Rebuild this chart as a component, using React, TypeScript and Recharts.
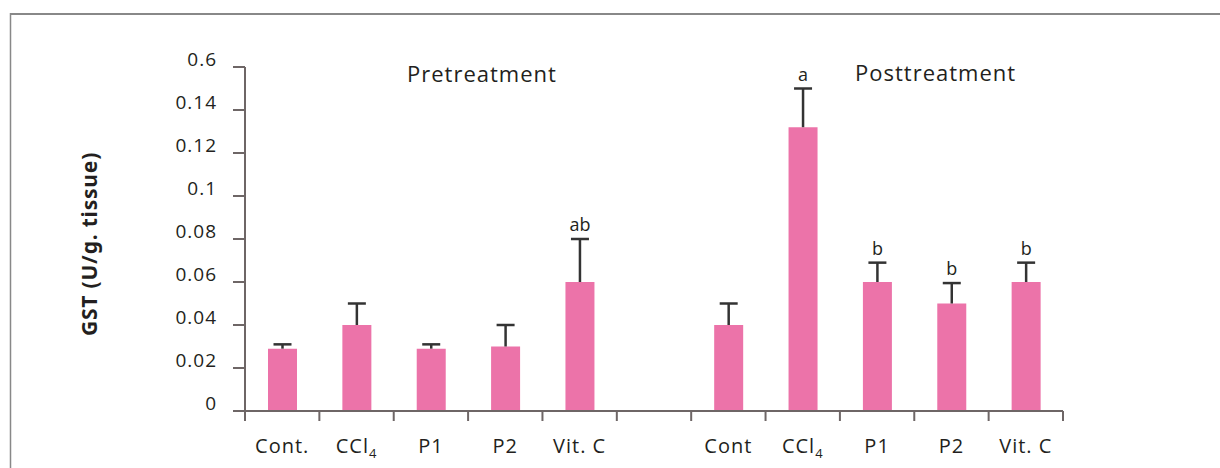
import { BarChart, Bar, XAxis, YAxis, LabelList } from 'recharts'

// GST activity, pre- and post-treatment groups (empty slot separates them)
const categories = ['Cont.', 'CCl4', 'P1', 'P2', 'Vit. C', '', 'Cont', 'CCl4', 'P1', 'P2', 'Vit. C']
const means = [0.029, 0.04, 0.029, 0.03, 0.06, null, 0.04, 0.132, 0.06, 0.05, 0.06]
const errors = [0.002, 0.01, 0.002, 0.01, 0.02, null, 0.01, 0.018, 0.009, 0.0095, 0.009]
const letters = ['', '', '', '', 'ab', '', '', 'a', 'b', 'b', 'b']

const yTicks = [0, 0.02, 0.04, 0.06, 0.08, 0.1, 0.12, 0.14, 0.16]
const yTickLabels = ['0', '0.02', '0.04', '0.06', '0.08', '0.1', '0.12', '0.14', '0.6']
const yTitle = 'GST (U/g. tissue)'

const data = categories.map((name, i) => ({
    name,
    mean: means[i],
    err: errors[i],
    sig: letters[i],
}))

const W = 1220
const H = 468
const Y_AXIS_W = 245
const RIGHT = 157
const TOP = 67
const X_AXIS_H = 57
const BAND = (W - Y_AXIS_W - RIGHT) / categories.length
const PLOT_MID = TOP + (H - TOP - X_AXIS_H) / 2

const AXIS = '#6e6666'
const INK = '#231f20'
const PINK = '#ec73a9'
const FONT = '"Open Sans", sans-serif'

const YTick = ({ x, y, payload, index }: any) => (
    <text
        x={x}
        y={y - 1}
        textAnchor="end"
        fill={INK}
        fontSize={19}
        fontFamily={FONT}
        letterSpacing={1}
    >
        {yTickLabels[index] ?? payload.value}
    </text>
)

const XTick = ({ x, y, payload, index }: any) => {
    const label: string = payload.value
    const last = index === categories.length - 1
    return (
        <g>
            <line x1={x - BAND / 2} x2={x - BAND / 2} y1={y} y2={y + 10} stroke={AXIS} strokeWidth={2} />
            {last && <line x1={x + BAND / 2} x2={x + BAND / 2} y1={y} y2={y + 10} stroke={AXIS} strokeWidth={2} />}
            <text x={x} y={y + 42} textAnchor="middle" fill={INK} fontSize={20} fontFamily={FONT} letterSpacing={1}>
                {label === 'CCl4' ? (
                    <>
                        <tspan>CCl</tspan>
                        <tspan dy={5} fontSize={13}>4</tspan>
                    </>
                ) : (
                    label
                )}
            </text>
        </g>
    )
}

// upward-only error bar drawn on the stacked "err" segment
const ErrShape = ({ x, y, width, height }: any) => {
    if (!height || height <= 0) return null
    const cx = x + width / 2
    return (
        <g>
            <line x1={cx} x2={cx} y1={y} y2={y + height} stroke="#333" strokeWidth={2.5} />
            <line x1={cx - 9} x2={cx + 9} y1={y} y2={y} stroke="#333" strokeWidth={2.5} />
        </g>
    )
}

export default function App() {
    return (
        <div style={{ position: 'absolute', left: 0, top: 0, width: W, height: H, background: '#fff', overflow: 'hidden' }}>
            <BarChart width={W} height={H} data={data} margin={{ top: TOP, right: RIGHT, left: 0, bottom: 0 }}>
                <XAxis
                    dataKey="name"
                    height={X_AXIS_H}
                    axisLine={{ stroke: AXIS, strokeWidth: 2 }}
                    tickLine={false}
                    tickSize={0}
                    tickMargin={0}
                    interval={0}
                    tick={<XTick />}
                />
                <YAxis
                    width={Y_AXIS_W}
                    domain={[0, 0.16]}
                    ticks={yTicks}
                    interval={0}
                    axisLine={{ stroke: AXIS, strokeWidth: 2 }}
                    tickLine={{ stroke: AXIS, strokeWidth: 2 }}
                    tickSize={12}
                    tickMargin={16}
                    tick={<YTick />}
                />
                <Bar dataKey="mean" stackId="s" fill={PINK} barSize={29} isAnimationActive={false} />
                <Bar dataKey="err" stackId="s" barSize={29} shape={<ErrShape />} isAnimationActive={false}>
                    <LabelList
                        dataKey="sig"
                        position="top"
                        offset={8}
                        fill={INK}
                        fontSize={18}
                        fontFamily={FONT}
                    />
                </Bar>
            </BarChart>
            <svg width={W} height={H} style={{ position: 'absolute', left: 0, top: 0, pointerEvents: 'none' }}>
                <line x1={10} x2={W} y1={14} y2={14} stroke="#888" strokeWidth={2} />
                <line x1={10.5} x2={10.5} y1={13} y2={H} stroke="#888" strokeWidth={1.5} />
                <g transform={`translate(97, ${PLOT_MID + 5}) rotate(-90)`}>
                    <text
                        x={0}
                        y={0}
                        textAnchor="middle"
                        fill={INK}
                        fontSize={21}
                        fontWeight={700}
                        fontFamily='"Noto Sans", "DejaVu Sans", sans-serif'
                        letterSpacing={0.8}
                    >
                        {yTitle}
                    </text>
                </g>
                <text x={407} y={82} fill={INK} fontSize={22} fontFamily={FONT} letterSpacing={1}>
                    Pretreatment
                </text>
                <text x={855} y={81} fill={INK} fontSize={22} fontFamily={FONT} letterSpacing={1}>
                    Posttreatment
                </text>
            </svg>
        </div>
    )
}
